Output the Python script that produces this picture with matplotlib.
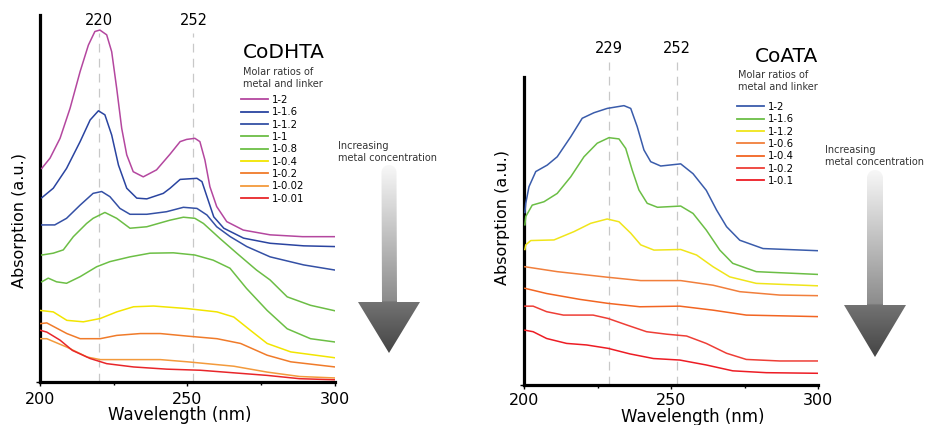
import numpy as np
import matplotlib
matplotlib.use("Agg")
import matplotlib.pyplot as plt
from matplotlib.lines import Line2D
from matplotlib.patches import Polygon
from matplotlib.ticker import MultipleLocator

# ---- CoDHTA spectra (wavelength nm, absorption a.u.) ----
dhta_labels = ["1-2", "1-1.6", "1-1.2", "1-1", "1-0.8", "1-0.4", "1-0.2", "1-0.02", "1-0.01"]
dhta_colors = ["#b4479f", "#2a44a0", "#3450a5", "#6cbd45", "#6cbf45", "#f2e500", "#f07b2a", "#f39a3c", "#e8262a"]

dhta_wl = [
    [200.6, 203.4, 206.8, 210.2, 213.6, 216.4, 218.6, 220.3, 222.6, 224.3, 226, 227.7, 229.4, 231.6, 235, 239.5, 244.1,
     247.5, 249.7, 252.5, 254.2, 255.9, 257.6, 259.9, 263.3, 268.9, 278, 289, 300],
    [200.6, 204.5, 209, 213.6, 217, 219.8, 222, 224.3, 226.6, 229.4, 232.8, 236.2, 241.8, 244.1, 247.5, 253.2, 254.9,
     256.6, 258.9, 262.3, 269, 278, 289.4, 300],
    [200.6, 205, 209, 213.6, 218, 220.9, 223.7, 227.1, 230.5, 236.2, 242.9, 248.6, 253.2, 256.6, 259.9, 264.5, 270.1,
     278, 289.4, 300],
    [200.6, 204.5, 207.9, 211.3, 215.8, 218, 222, 226, 230.5, 236.2, 241, 244.1, 248.6, 252.5, 255.4, 261, 266.7,
     273.4, 278, 283.8, 291.7, 300],
    [200.6, 202.8, 205.6, 209, 213.6, 219.2, 223.7, 230.5, 237.3, 245.2, 252.5, 258.7, 264.4, 270, 277, 283.8, 291.7, 300],
    [200, 204.5, 209.1, 214.7, 220.4, 226, 231.7, 238.5, 250, 260, 265.7, 271.3, 277, 285, 300],
    [200, 202.3, 209.1, 213.6, 220.4, 226, 234, 240.8, 250, 260, 268, 277, 285, 300],
    [200, 202.3, 209.1, 216, 220.4, 231.7, 240.8, 250, 265.7, 277, 288, 300],
    [200, 202.3, 206.8, 211, 217, 222.6, 231.7, 243, 254.4, 265.7, 277, 288, 300],
]
dhta_abs = [
    [0.582, 0.610, 0.664, 0.746, 0.846, 0.918, 0.955, 0.959, 0.946, 0.900, 0.800, 0.691, 0.619, 0.573, 0.559, 0.578, 0.621,
     0.655, 0.661, 0.664, 0.655, 0.605, 0.532, 0.478, 0.437, 0.414, 0.401, 0.396, 0.396],
    [0.502, 0.528, 0.582, 0.655, 0.714, 0.739, 0.728, 0.673, 0.591, 0.528, 0.501, 0.499, 0.514, 0.528, 0.552, 0.555, 0.546,
     0.505, 0.450, 0.419, 0.392, 0.378, 0.371, 0.369],
    [0.428, 0.428, 0.446, 0.482, 0.514, 0.519, 0.505, 0.473, 0.457, 0.457, 0.464, 0.476, 0.473, 0.455, 0.423, 0.396, 0.369,
     0.341, 0.319, 0.305],
    [0.346, 0.351, 0.360, 0.396, 0.432, 0.446, 0.462, 0.446, 0.419, 0.423, 0.434, 0.441, 0.449, 0.446, 0.432, 0.391, 0.351,
     0.305, 0.278, 0.232, 0.209, 0.194],
    [0.273, 0.283, 0.273, 0.269, 0.287, 0.314, 0.328, 0.341, 0.351, 0.352, 0.346, 0.332, 0.310, 0.255, 0.195, 0.145, 0.118, 0.109],
    [0.195, 0.191, 0.168, 0.164, 0.173, 0.191, 0.205, 0.207, 0.200, 0.191, 0.177, 0.141, 0.105, 0.082, 0.066],
    [0.159, 0.161, 0.132, 0.118, 0.118, 0.127, 0.132, 0.132, 0.125, 0.118, 0.105, 0.073, 0.055, 0.041],
    [0.118, 0.118, 0.095, 0.068, 0.061, 0.061, 0.061, 0.055, 0.043, 0.027, 0.015, 0.011],
    [0.141, 0.136, 0.114, 0.086, 0.064, 0.050, 0.041, 0.035, 0.032, 0.025, 0.018, 0.009, 0.006],
]
dhta_peaks = [220, 252]

# ---- CoATA spectra ----
ata_labels = ["1-2", "1-1.6", "1-1.2", "1-0.6", "1-0.4", "1-0.2", "1-0.1"]
ata_colors = ["#3a5cab", "#6bbe45", "#f0e51a", "#f17f3c", "#f26522", "#ee3e36", "#ed1c24"]

ata_wl = [
    [200.3, 200.6, 201.7, 204, 207.9, 211.3, 215.9, 219.8, 223.8, 228.3, 234, 236.3, 238.5, 240.8, 243.1, 246.5, 253.3,
     257.5, 262, 265.5, 268.9, 273.4, 281.3, 300],
    [200.3, 200.6, 202.8, 206.8, 211.3, 215.9, 220.4, 224.9, 228.9, 232.3, 234.6, 236.8, 239.1, 241.9, 245.4, 253.3,
     257.5, 262, 266.6, 271, 279, 300],
    [200.3, 200.6, 202.3, 210.2, 217, 222.7, 228.3, 232.3, 236.3, 239.7, 244.2, 253.3, 258.7, 264.3, 270, 279, 300],
    [200.3, 211.3, 228.3, 239.7, 253.3, 264.3, 273.4, 287, 300],
    [200.3, 207.7, 219, 228.6, 239.4, 253, 264.3, 275.6, 300],
    [200.3, 203.1, 207.7, 213.4, 223.5, 228.6, 234.9, 241.7, 248.5, 255.3, 262, 268.9, 275.6, 287, 300],
    [200.3, 203.1, 207.7, 214.5, 221.3, 228.6, 236, 244, 253, 262, 271, 282.4, 300],
]
ata_abs = [
    [0.560, 0.590, 0.644, 0.693, 0.714, 0.741, 0.806, 0.866, 0.884, 0.898, 0.907, 0.898, 0.839, 0.763, 0.725, 0.711, 0.718,
     0.686, 0.632, 0.568, 0.514, 0.470, 0.443, 0.436],
    [0.520, 0.547, 0.584, 0.595, 0.622, 0.676, 0.741, 0.785, 0.803, 0.799, 0.768, 0.698, 0.633, 0.590, 0.577, 0.581,
     0.557, 0.503, 0.438, 0.395, 0.368, 0.359],
    [0.440, 0.455, 0.469, 0.471, 0.498, 0.525, 0.539, 0.530, 0.493, 0.455, 0.438, 0.440, 0.422, 0.384, 0.351, 0.330, 0.322],
    [0.384, 0.368, 0.350, 0.339, 0.339, 0.324, 0.303, 0.292, 0.290],
    [0.314, 0.297, 0.278, 0.265, 0.254, 0.256, 0.243, 0.227, 0.222],
    [0.256, 0.256, 0.238, 0.227, 0.227, 0.216, 0.195, 0.173, 0.165, 0.159, 0.135, 0.103, 0.083, 0.078, 0.078],
    [0.178, 0.173, 0.151, 0.135, 0.130, 0.119, 0.101, 0.086, 0.081, 0.065, 0.046, 0.040, 0.038],
]
ata_peaks = [229, 252]

SMALL = 7


def setup_axes(ax, label_y, label_x, pad):
    ax.set_xlim(200, 300)
    ax.set_ylim(0, 1.0)
    for s in ["top", "right"]:
        ax.spines[s].set_visible(False)
    ax.spines["left"].set_linewidth(2.3)
    ax.spines["bottom"].set_linewidth(2.3)
    ax.set_xticks([200, 250, 300])
    ax.xaxis.set_minor_locator(MultipleLocator(25))
    ax.tick_params(axis="x", which="major", length=3, width=1, pad=pad, labelsize=11.5)
    ax.tick_params(axis="x", which="minor", length=2, width=1)
    ax.set_yticks([0])
    ax.set_yticklabels([])
    ax.tick_params(axis="y", length=3, width=1)
    ax.set_xlabel("Wavelength (nm)", fontsize=12)
    ax.set_ylabel("Absorption (a.u.)", fontsize=11.5)
    ax.xaxis.set_label_coords(label_x[0], label_x[1])
    ax.yaxis.set_label_coords(label_y[0], label_y[1])


def draw_peaks(ax, peaks, ytop, ytext):
    trans = ax.get_xaxis_transform()
    for p in peaks:
        ax.plot([p, p], [0, ytop], transform=trans, color="#c8c8c8", lw=0.9,
                linestyle=(0, (7, 5)), clip_on=False, zorder=1)
        ax.text(p, ytext, str(p), transform=trans, ha="center", va="center", fontsize=10.5)


def draw_arrow(ov, x0, x1, ytop, yhead, hx0, hx1, ytip):
    xm = (hx0 + hx1) / 2
    r = (x1 - x0) / 2
    theta = np.linspace(np.pi, 0, 20)
    top = [(xm + r * np.cos(t), ytop + r - r * np.sin(t)) for t in theta]
    verts = top + [(x1, yhead), (hx1, yhead), (xm, ytip), (hx0, yhead), (x0, yhead)]
    poly = Polygon(verts, closed=True, facecolor="none", edgecolor="none")
    ov.add_patch(poly)
    ys = np.linspace(ytop, ytip, 300)
    shade = np.interp(ys, [ytop, yhead - 1, yhead, ytip], [0.97, 0.55, 0.45, 0.27])
    img = np.tile(shade[:, None], (1, 10))
    im = ov.imshow(img, cmap="gray", vmin=0, vmax=1, extent=[hx0, hx1, ytip, ytop],
                   aspect="auto", interpolation="bilinear")
    im.set_clip_path(poly)


def draw_legend(fig, labels, colors, x, ytop, title, title_xy, sub_xy):
    W, H = 926.0, 425.0
    handles = [Line2D([], [], color=c, lw=1.3) for c in colors]
    fig.legend(handles, labels, loc="upper left", bbox_to_anchor=(x / W, 1 - ytop / H),
               frameon=False, fontsize=SMALL + 0.3, handlelength=2.7, handletextpad=0.35,
               labelspacing=0.23, borderpad=0, borderaxespad=0)
    fig.text(title_xy[0] / W, 1 - title_xy[1] / H, title, fontsize=14.5, va="center", ha="left")
    fig.text(sub_xy[0] / W, 1 - sub_xy[1] / H, "Molar ratios of\nmetal and linker",
             fontsize=SMALL, va="center", ha="left", color="#333333", linespacing=1.3)


def main():
    fig = plt.figure(figsize=(9.26, 4.25), dpi=100)

    ax1 = fig.add_axes([40 / 926, 43 / 425, 295 / 926, 367 / 425])
    for wl, a, c in zip(dhta_wl, dhta_abs, dhta_colors):
        ax1.plot(wl, a, color=c, lw=1.1, zorder=3)
    setup_axes(ax1, (-0.045, 0.44), (0.475, -0.065), 4)
    draw_peaks(ax1, dhta_peaks, 0.95, 0.985)

    ax2 = fig.add_axes([524 / 926, 40 / 425, 294 / 926, 308 / 425])
    for wl, a, c in zip(ata_wl, ata_abs, ata_colors):
        ax2.plot(wl, a, color=c, lw=1.1, zorder=3)
    setup_axes(ax2, (-0.048, 0.545), (0.575, -0.074), 2.5)
    draw_peaks(ax2, ata_peaks, 1.05, 1.094)

    draw_legend(fig, dhta_labels, dhta_colors, 241, 95, "CoDHTA", (243, 53), (243, 78))
    draw_legend(fig, ata_labels, ata_colors, 737, 102, "CoATA", (755, 57), (738, 81))

    # overlay in pixel coordinates for the arrows
    ov = fig.add_axes([0, 0, 1, 1], zorder=-1)
    ov.set_xlim(0, 926)
    ov.set_ylim(425, 0)
    ov.axis("off")
    draw_arrow(ov, 382, 397, 165, 302, 358, 420, 353)
    draw_arrow(ov, 867, 883, 170, 305, 844, 906, 357)
    fig.text(338 / 926, 1 - 152 / 425, "Increasing\nmetal concentration", fontsize=SMALL,
             va="center", ha="left", color="#333333", linespacing=1.3)
    fig.text(825 / 926, 1 - 156 / 425, "Increasing\nmetal concentration", fontsize=SMALL,
             va="center", ha="left", color="#333333", linespacing=1.3)

    fig.savefig("out.png", dpi=100)


if __name__ == "__main__":
    main()
